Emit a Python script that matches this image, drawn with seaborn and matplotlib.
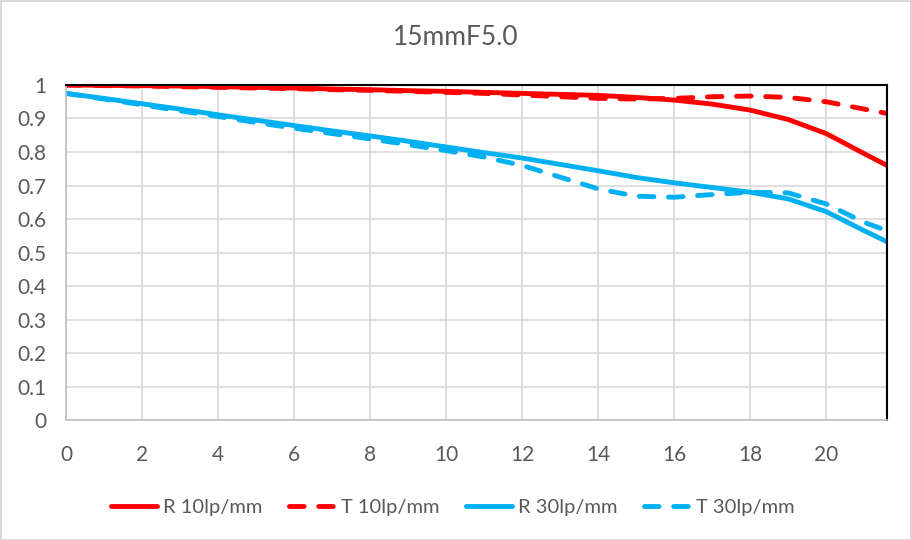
import numpy as np
import pandas as pd
import matplotlib.pyplot as plt
import seaborn as sns

# image height (mm) and MTF values
x_pos = [0, 1, 2, 3, 4, 5, 6, 7, 8, 9, 10, 11, 12, 13, 14, 15, 16, 17, 18, 19, 20, 21, 21.6]
r10 = [1.0, 0.999, 0.998, 0.997, 0.995, 0.993, 0.991, 0.988, 0.986, 0.983, 0.981, 0.978, 0.975, 0.972, 0.969, 0.963, 0.955, 0.943, 0.925, 0.897, 0.855, 0.795, 0.760]
t10 = [1.0, 0.998, 0.997, 0.995, 0.993, 0.991, 0.989, 0.986, 0.984, 0.981, 0.978, 0.975, 0.970, 0.965, 0.960, 0.958, 0.960, 0.965, 0.967, 0.963, 0.950, 0.928, 0.915]
r30 = [0.975, 0.960, 0.944, 0.928, 0.911, 0.895, 0.879, 0.863, 0.848, 0.832, 0.815, 0.798, 0.782, 0.763, 0.744, 0.724, 0.708, 0.694, 0.680, 0.660, 0.622, 0.565, 0.532]
t30 = [0.975, 0.958, 0.941, 0.923, 0.906, 0.888, 0.871, 0.855, 0.839, 0.822, 0.804, 0.785, 0.760, 0.725, 0.690, 0.668, 0.665, 0.673, 0.680, 0.678, 0.645, 0.590, 0.565]

series = {"R 10lp/mm": r10, "T 10lp/mm": t10, "R 30lp/mm": r30, "T 30lp/mm": t30}
colors = {"R 10lp/mm": "#FF0000", "T 10lp/mm": "#FF0000", "R 30lp/mm": "#00B0F0", "T 30lp/mm": "#00B0F0"}
dashed = {"R 10lp/mm": False, "T 10lp/mm": True, "R 30lp/mm": False, "T 30lp/mm": True}

df = pd.concat([pd.DataFrame({"x": x_pos, "y": v, "name": k}) for k, v in series.items()])

sns.set_style("white")
plt.rcParams['font.family'] = ['Lato', 'DejaVu Sans']

fig = plt.figure(figsize=(9.11, 5.4), dpi=100)
fig.patch.set_edgecolor("#D9D9D9")
fig.patch.set_linewidth(2)
ax = fig.add_axes([0.0724, 0.2222, 0.9013, 0.6204])

for name in series:
    sub = df[df.name == name]
    sns.lineplot(data=sub, x="x", y="y", ax=ax, color=colors[name], lw=3.5,
                 label=name, sort=False)
    line = ax.lines[-1]
    if dashed[name]:
        line.set_dashes((3.0, 3.0))
        line.set_dash_capstyle("round")
    line.set_solid_capstyle("round")

ax.set_xlim(0, 21.6)
ax.set_ylim(0, 1)
ax.set_xticks(np.arange(0, 21, 2))
ax.set_yticks(np.arange(0, 1.01, 0.1))
ax.set_yticklabels(["0"] + ["%.1f" % v for v in np.arange(0.1, 0.95, 0.1)] + ["1"])
ax.grid(True, color="#D9D9D9", lw=1.2)
ax.set_axisbelow(True)
ax.tick_params(axis="both", length=0, labelsize=15, labelcolor="#595959")
ax.tick_params(axis="y", pad=14)
ax.tick_params(axis="x", pad=18)
ax.set_xlabel("")
ax.set_ylabel("")
for s in ["left", "bottom"]:
    ax.spines[s].set_color("#BFBFBF")
    ax.spines[s].set_linewidth(1.2)
for s in ["top", "right"]:
    ax.spines[s].set_color("black")
    ax.spines[s].set_linewidth(1.5)

fig.text(0.5, 0.93, "15mmF5.0", ha="center", va="center", fontsize=19, color="#595959")

ax.legend(loc="center", bbox_to_anchor=(0.497, 0.06), bbox_transform=fig.transFigure,
          ncol=4, frameon=False, fontsize=14.5, labelcolor="#595959",
          handlelength=2.3, handletextpad=0.3, columnspacing=1.3)

fig.savefig("out.png", dpi=100)
